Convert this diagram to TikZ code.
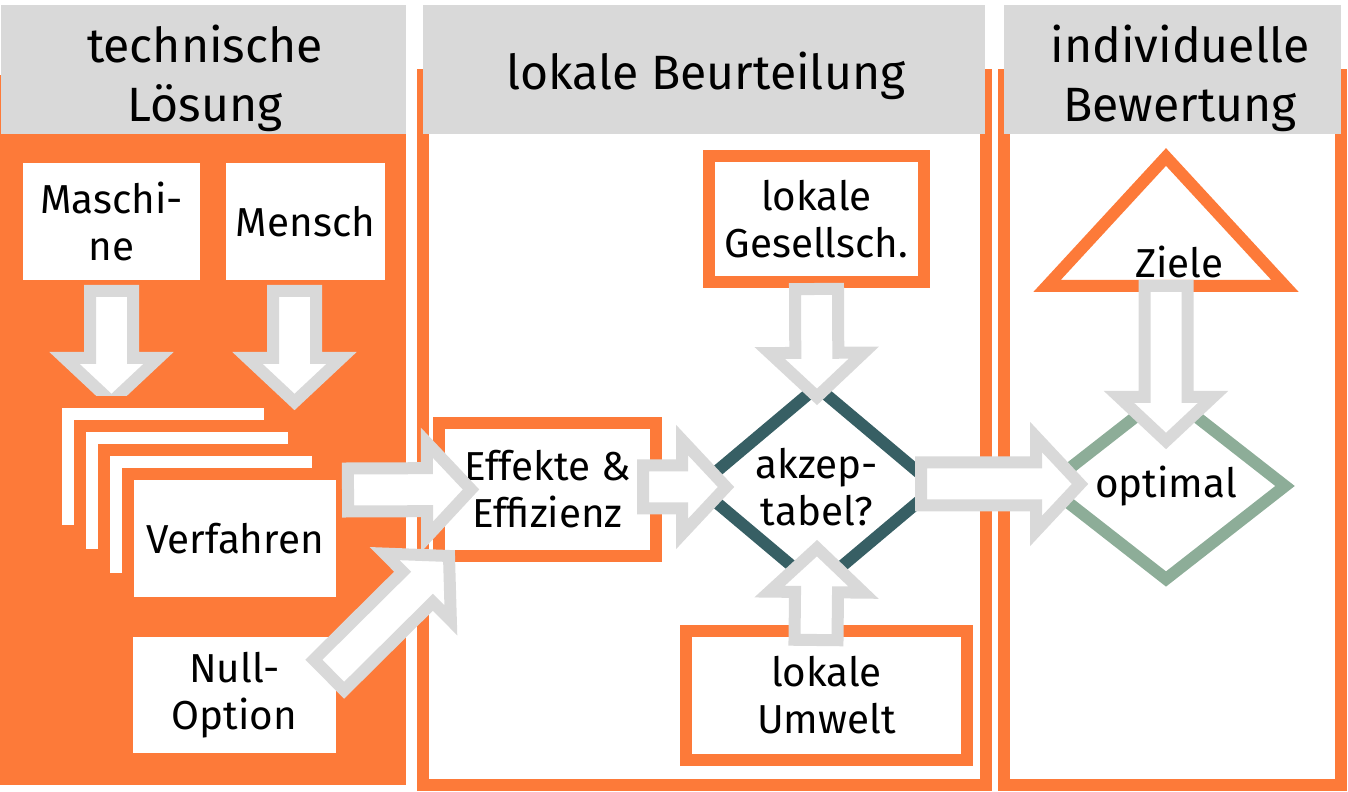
\documentclass[tikz,border=0pt]{standalone}
\usepackage{fontspec}
\setmainfont{Fira Sans}
\usetikzlibrary{shapes.geometric,calc}
\definecolor{orng}{RGB}{253,122,57}
\definecolor{lgray}{RGB}{217,217,217}
\definecolor{dteal}{RGB}{55,95,100}
\definecolor{sage}{RGB}{141,173,152}
\begin{document}
\begin{tikzpicture}[line join=miter,
  txt/.style={font=\fontsize{11.5}{13.4}\selectfont, align=center, inner sep=0pt, outer sep=0pt},
  head/.style={fill=lgray, inner sep=0pt, outer sep=0pt},
  htxt/.style={align=center, inner sep=0pt, font=\fontsize{13.7}{16.6}\selectfont},
  wbox/.style={txt, fill=white},
  obox/.style={txt, draw=orng, fill=white, line width=0.12cm},
  sheet/.style={obox, minimum width=2.14cm, minimum height=1.29cm},
  frame/.style={draw=orng, line width=0.12cm},
  rhomb/.style={txt, diamond, line width=0.12cm, minimum width=2.38cm, minimum height=1.86cm},
  flow/.style={draw=lgray, fill=white, line width=0.12cm}]
\def\sw{0.215cm} \def\hw{0.47cm} \def\hl{0.44cm} % Pfeilmasse
\def\flowarrow#1#2{%
  \coordinate (fa-s) at (#1); \coordinate (fa-t) at (#2);
  \coordinate (fa-h) at ($(fa-t)!\hl!(fa-s)$);
  \filldraw[flow] ($(fa-s)!\sw!90:(fa-t)$) -- ($(fa-h)!\sw!90:(fa-t)$) -- ($(fa-h)!\hw!90:(fa-t)$)
    -- (fa-t) -- ($(fa-h)!\hw!-90:(fa-t)$) -- ($(fa-h)!\sw!-90:(fa-t)$) -- ($(fa-s)!\sw!-90:(fa-t)$) -- cycle;}
\useasboundingbox (0,0) rectangle (13.48,-7.92);
% Spalten
\fill[orng] (0,-0.75) rectangle (4.06,-7.85);
\draw[frame] (4.23,-0.75) rectangle (9.86,-7.85);
\draw[frame] (10.04,-0.75) rectangle (13.41,-7.85);
\node[head, minimum width=4.05cm, minimum height=1.29cm] (hleft) at (2.035,-0.695) {};
\node[head, minimum width=5.62cm, minimum height=1.29cm] (hmid) at (7.04,-0.695) {};
\node[head, minimum width=3.37cm, minimum height=1.29cm] (hright) at (11.725,-0.695) {};
\node[htxt] (tleft) at ($(hleft)+(0.015,-0.09)$) {technische\\Lösung};
\node[htxt] (tmid) at ($(hmid)+(0.02,-0.06)$) {lokale Beurteilung};
\node[htxt] (tright) at ($(hright)+(0.075,-0.09)$) {individuelle\\Bewertung};
% technische Loesung
\node[wbox, minimum width=1.77cm, minimum height=1.17cm] (masch) at (1.115,-2.215) {Maschi-\\ne};
\node[wbox, minimum width=1.59cm, minimum height=1.17cm] (mensch) at (3.055,-2.215) {Mensch};
\flowarrow{$(masch.south)+(0,-0.11)$}{$(masch.south)+(0,-1.22)$}
\flowarrow{$(mensch.south)+(-0.11,-0.11)$}{$(mensch.south)+(-0.11,-1.22)$}
\foreach \k in {0,1,2}
  \node[sheet] (s\k) at (1.63+0.24*\k,-4.665-0.24*\k) {};
\node[sheet] (verf) at (2.35,-5.385) {Verfahren};
\node[wbox, minimum width=2.03cm, minimum height=1.16cm] (nullopt) at (2.345,-6.95) {Null-\\Option};
% lokale Beurteilung
\node[obox, minimum width=2.17cm, minimum height=1.33cm] (eff) at (5.475,-4.895) {Effekte \&\\Effizienz};
\node[obox, minimum width=2.15cm, minimum height=1.26cm] (ges) at (8.165,-2.19) {lokale\\Gesellsch.};
\node[obox, minimum width=2.81cm, minimum height=1.29cm] (umw) at (8.265,-6.955) {lokale\\Umwelt};
\node[rhomb, draw=dteal] (akz) at (8.17,-4.87) {akzep-\\tabel?};
% individuelle Bewertung
\draw[frame, fill=white] (10.47,-2.86) coordinate (zl) -- (11.66,-1.57) coordinate (zt) -- (12.85,-2.86) coordinate (zr) -- cycle;
\node[txt] (ziele) at (11.795,-2.62) {Ziele};
\node[rhomb, draw=sage] (opt) at (11.66,-4.86) {optimal};
% Pfeile
\flowarrow{$(verf.north east)+(0.06,-0.16)$}{$(eff.west)+(0.32,0)$}
\flowarrow{$(nullopt.east)+(-0.07,0.20)$}{$(eff.south west)+(0.10,0)$}
\flowarrow{$(eff.east)+(-0.13,0.025)$}{$(akz.west)+(0.28,0)$}
\flowarrow{$(ges.south)+(0,-0.07)$}{$(akz.north)+(0,-0.10)$}
\flowarrow{$(umw.north)+(-0.105,-0.09)$}{$(akz.south)+(0,0.39)$}
\flowarrow{$(akz.east)+(-0.15,0.03)$}{$(opt.west)+(0.33,0.02)$}
\flowarrow{$(zl)!0.5!(zr)$}{$(opt.north)+(0,-0.48)$}
\end{tikzpicture}
\end{document}
